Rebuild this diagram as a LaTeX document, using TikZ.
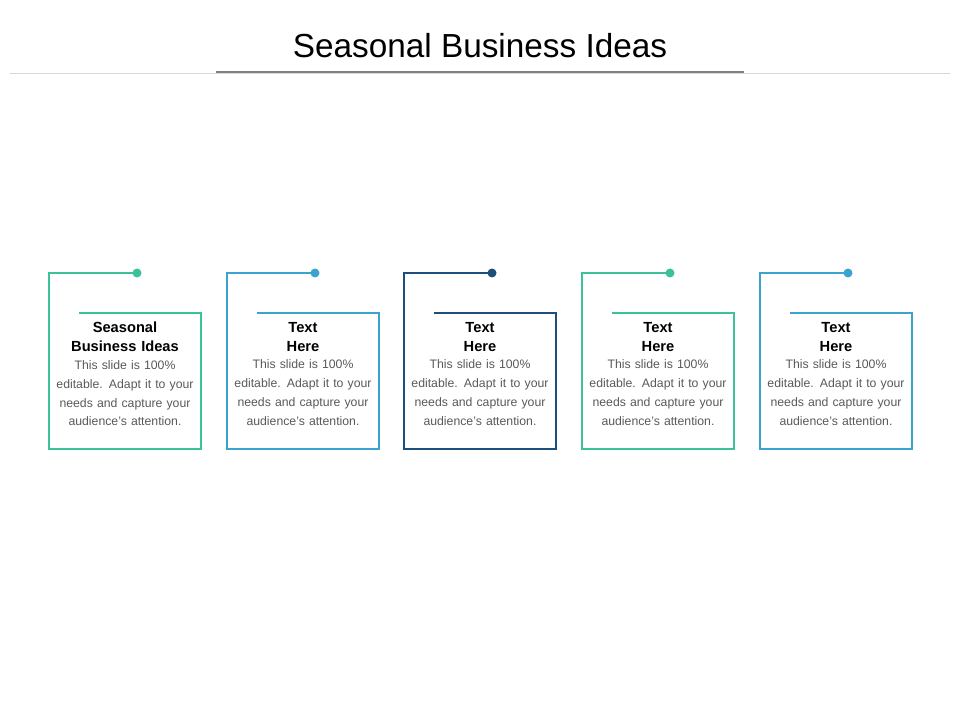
\documentclass[tikz,border=0pt]{standalone}
\usepackage{fontspec}
\setmainfont{Liberation Sans}
\usetikzlibrary{positioning}
\definecolor{ideagreen}{HTML}{3CC29B}
\definecolor{ideablue}{HTML}{3BA3D0}
\definecolor{ideanavy}{HTML}{1D4F7C}
\definecolor{bodygray}{HTML}{595959}
\begin{document}
\begin{tikzpicture}[
        x=0.75pt, y=-0.75pt,
        head/.style={text width=105pt, align=center, font=\fontsize{11}{14}\selectfont\bfseries, inner sep=0pt},
        body/.style={text width=110pt, align=center, font=\fontsize{9.2}{14.2}\selectfont, text=bodygray, inner sep=0pt},
        frame/.style={line width=1.6pt},
    ]
        \useasboundingbox (0,0) rectangle (960,720);
        % Title
        \node[font=\fontsize{25}{30}\selectfont] (title) at (480,46) {Seasonal Business Ideas};
        \draw[black!15, line width=0.6pt] (10,73) -- (950,73);
        \draw[black!50, line width=2.2pt] (216,72) -- (744,72);

        % Boxes
        \foreach \x/\col/\hd [count=\i] in {49/ideagreen/{Seasonal\\Business Ideas}, 227/ideablue/{Text\\Here}, 404/ideanavy/{Text\\Here}, 582/ideagreen/{Text\\Here}, 760/ideablue/{Text\\Here}} {
            \draw[frame, \col] (\x+30,313) -- (\x+152,313) -- (\x+152,449) -- (\x,449) -- (\x,273) -- (\x+88,273);
            \fill[\col] (\x+88,273) circle (4.5);
            \node[head] (head\i) at (\x+76,337) {\hd};
            \node[body, below=6pt of head\i] (body\i) {This slide is 100\% editable. Adapt it to your needs and capture your audience’s attention.};
        }
    \end{tikzpicture}
\end{document}
